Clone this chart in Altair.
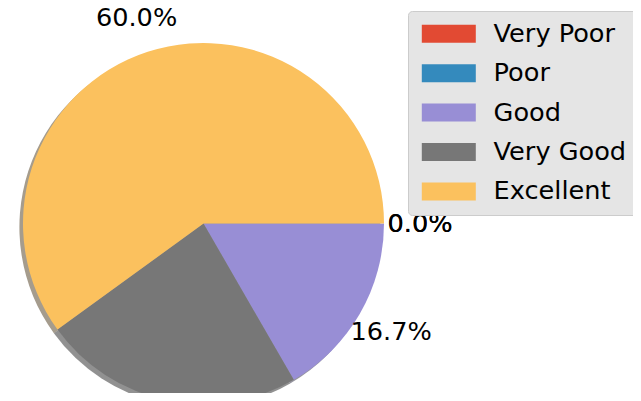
import math
import altair as alt
import pandas as pd

categories = ["Very Poor", "Poor", "Good", "Very Good", "Excellent"]
counts = [0, 0, 5, 7, 18]
colors = ["#E24A33", "#348ABD", "#988ED5", "#777777", "#FBC15E"]
shadow_colors = ["#44160F", "#102938", "#2E2B40", "#242424", "#4B3A1C"]

df = pd.DataFrame({"category": categories, "count": counts, "order": list(range(len(categories)))})

CX, CY, R = 195.5, 215.5, 180.5
FS = 25.6
theta_scale = alt.Scale(range=[math.pi / 2, math.pi / 2 + 2 * math.pi])

base = alt.Chart(df).encode(
    theta=alt.Theta("count:Q", stack=True, scale=theta_scale),
    order=alt.Order("order:Q"),
    x=alt.value(CX),
    y=alt.value(CY),
)

shadow = base.mark_arc(radius=R, opacity=0.5, xOffset=-3.6, yOffset=3.6).encode(
    fill=alt.Fill("category:N", scale=alt.Scale(domain=categories, range=shadow_colors), legend=None)
)

pie = base.mark_arc(radius=R).encode(
    color=alt.Color(
        "category:N",
        scale=alt.Scale(domain=categories, range=colors),
        legend=alt.Legend(
            title=None,
            orient="none",
            legendX=400,
            legendY=3,
            symbolType="M-3,-1H3V1H-3Z",
            symbolSize=324,
            symbolOffset=18,
            symbolStrokeWidth=0,
            symbolOpacity=1,
            labelFontSize=FS,
            labelFont="DejaVu Sans",
            labelColor="#000000",
            labelOffset=32,
            rowPadding=12.4,
            padding=10,
            fillColor="#E5E5E5",
            strokeColor="#CCCCCC",
            cornerRadius=4,
            labelLimit=300,
        ),
    )
)

labels = base.mark_text(
    radius=216.6, fontSize=FS, font="DejaVu Sans", color="#000000", align="center", baseline="middle"
).transform_joinaggregate(total="sum(count)").transform_calculate(
    label="format(datum.count / datum.total * 100, '.1f') + '%'"
).encode(text="label:N")

chart = alt.layer(shadow, pie, labels).properties(
    width=625, height=385, autosize="none", padding=0, background="white"
).resolve_scale(color="independent", fill="independent").configure_view(stroke=None)

chart.save("out.html", embed_options={"renderer": "svg", "actions": False})
